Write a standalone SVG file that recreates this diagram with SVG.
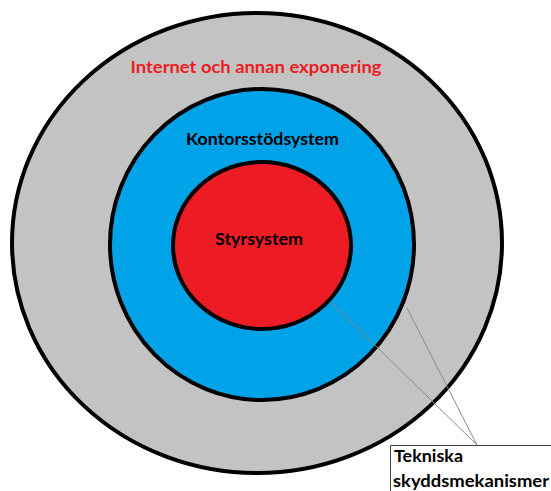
<svg xmlns="http://www.w3.org/2000/svg" width="551" height="491" viewBox="0 0 551 491">
<style>
.ring{stroke:#000;stroke-width:4}
.lbl{font-family:Lato,"Open Sans","Liberation Sans",sans-serif;font-weight:bold;font-size:17px}
.call{stroke:#8a8a8a;stroke-width:1;fill:none}
</style>
<rect width="551" height="491" fill="#fff"/>
<g id="outer">
<ellipse class="ring" cx="257" cy="243" rx="245" ry="230" fill="#C3C3C3"/>
<text class="lbl" x="256" y="73" text-anchor="middle" fill="#ED1C24" font-size="18" textLength="251" lengthAdjust="spacingAndGlyphs">Internet och annan exponering</text>
</g>
<g id="middle">
<ellipse class="ring" cx="262" cy="244.5" rx="152" ry="155.5" fill="#00A2E8"/>
<text class="lbl" x="262.5" y="145" text-anchor="middle" fill="#000" textLength="153" lengthAdjust="spacingAndGlyphs">Kontorsstödsystem</text>
</g>
<g id="inner">
<ellipse class="ring" cx="262" cy="245.5" rx="89" ry="83.5" fill="#ED1C24"/>
<text class="lbl" x="259" y="245" text-anchor="middle" fill="#000" textLength="88" lengthAdjust="spacingAndGlyphs">Styrsystem</text>
</g>
<g id="connectors">
<line class="call" x1="332" y1="303" x2="477" y2="445"/>
<line class="call" x1="407" y1="308" x2="477" y2="445"/>
</g>
<g id="callout">
<path d="M390.5 491 V445.5 H551" fill="#fff" stroke="#404040" stroke-width="1"/>
<rect x="391" y="446" width="160" height="45" fill="#fff"/>
<text class="lbl" x="394" y="462" fill="#000" textLength="69" lengthAdjust="spacingAndGlyphs">Tekniska</text>
<text class="lbl" x="393" y="487" fill="#000" textLength="156" lengthAdjust="spacingAndGlyphs">skyddsmekanismer</text>
</g>
</svg>
